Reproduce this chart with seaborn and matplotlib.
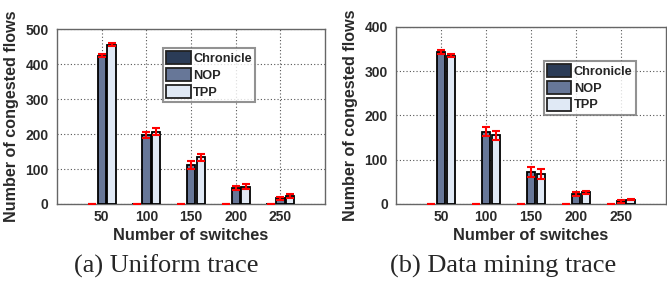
import seaborn as sns
import pandas as pd
import matplotlib.pyplot as plt

switches = ["50", "100", "150", "200", "250"]
methods = ["Chronicle", "NOP", "TPP"]

# uniform trace
uni_chronicle = [0, 0, 0, 0, 0]
uni_nop = [424, 198, 112, 45, 16]
uni_tpp = [456, 207, 133, 50, 23]
uni_chronicle_err = [0, 0, 0, 0, 0]
uni_nop_err = [4, 9, 11, 6, 5]
uni_tpp_err = [4, 9, 11, 6, 5]

# data mining trace
dm_chronicle = [0, 0, 0, 0, 0]
dm_nop = [343, 163, 72, 23, 6]
dm_tpp = [335, 155, 68, 26, 10]
dm_chronicle_err = [0, 0, 0, 0, 0]
dm_nop_err = [5, 10, 12, 4, 3]
dm_tpp_err = [4, 11, 11, 3, 2]

colors = ["#243a5e", "#5f74a0", "#dde9f8"]

sns.set_style("white")
plt.rcParams["font.family"] = ["Liberation Sans", "DejaVu Sans"]


def make_df(vals, errs):
    rows = []
    for m, v, e in zip(methods, vals, errs):
        for s, y, err in zip(switches, v, e):
            rows.append({"switches": s, "method": m, "flows": y, "err": err})
    return pd.DataFrame(rows)


def draw(ax, df, ymax, legend_anchor):
    sns.barplot(data=df, x="switches", y="flows", hue="method", order=switches,
                hue_order=methods, palette=colors, width=0.66, gap=0.15,
                errorbar=None, edgecolor="black", linewidth=1.3, ax=ax,
                zorder=3)
    # error bars on top of each bar
    for container, m in zip(ax.containers, methods):
        sub = df[df["method"] == m].set_index("switches").loc[switches]
        xs = [p.get_x() + p.get_width() / 2 for p in container.patches]
        ax.errorbar(xs, sub["flows"], yerr=sub["err"], fmt="none",
                    ecolor="red", elinewidth=1.5, capsize=3, capthick=1.5,
                    zorder=4)
    ax.set_xlim(-1, 5)
    ax.set_ylim(0, ymax)
    ax.set_yticks(range(0, ymax + 1, 100))
    ax.set_axisbelow(True)
    ax.grid(True, linestyle=(0, (1, 2)), color="#555555", linewidth=0.8)
    for sp in ax.spines.values():
        sp.set_color("#666666")
        sp.set_linewidth(1.0)
    ax.set_xlabel("Number of switches", fontsize=11.8, fontweight="bold",
                  color="#2a2a2a", labelpad=3)
    ax.set_ylabel("Number of congested flows", fontsize=11.6,
                  fontweight="bold", color="#2a2a2a", labelpad=5)
    ax.tick_params(labelsize=10, length=0, pad=6, colors="#2a2a2a")
    ax.tick_params(axis="x", pad=4)
    for lab in ax.get_xticklabels() + ax.get_yticklabels():
        lab.set_fontweight("bold")
    leg = ax.legend(loc="upper left", bbox_to_anchor=legend_anchor,
                    frameon=True, fancybox=False,
                    prop={"weight": "bold", "size": 9.2},
                    handlelength=1.9, handleheight=1.15, handletextpad=0.2,
                    labelspacing=0.25, borderpad=0.25, borderaxespad=0)
    leg.get_frame().set_edgecolor("#777777")
    leg.get_frame().set_linewidth(1.5)
    for h in leg.get_patches():
        h.set_edgecolor("#222222")


uni_df = make_df([uni_chronicle, uni_nop, uni_tpp],
                 [uni_chronicle_err, uni_nop_err, uni_tpp_err])
dm_df = make_df([dm_chronicle, dm_nop, dm_tpp],
                [dm_chronicle_err, dm_nop_err, dm_tpp_err])

fig = plt.figure(figsize=(6.67, 2.82), dpi=100)
ax1 = fig.add_axes([0.0855, 0.2766, 0.402, 0.62])
ax2 = fig.add_axes([0.594, 0.2766, 0.404, 0.628])

draw(ax1, uni_df, 500, (0.396, 0.891))
draw(ax2, dm_df, 400, (0.548, 0.808))

fig.text(0.250, 0.032, "(a) Uniform trace", ha="center", va="baseline",
         family="Liberation Serif", fontsize=19)
fig.text(0.754, 0.032, "(b) Data mining trace", ha="center", va="baseline",
         family="Liberation Serif", fontsize=19)

fig.savefig("out.png", dpi=100)
